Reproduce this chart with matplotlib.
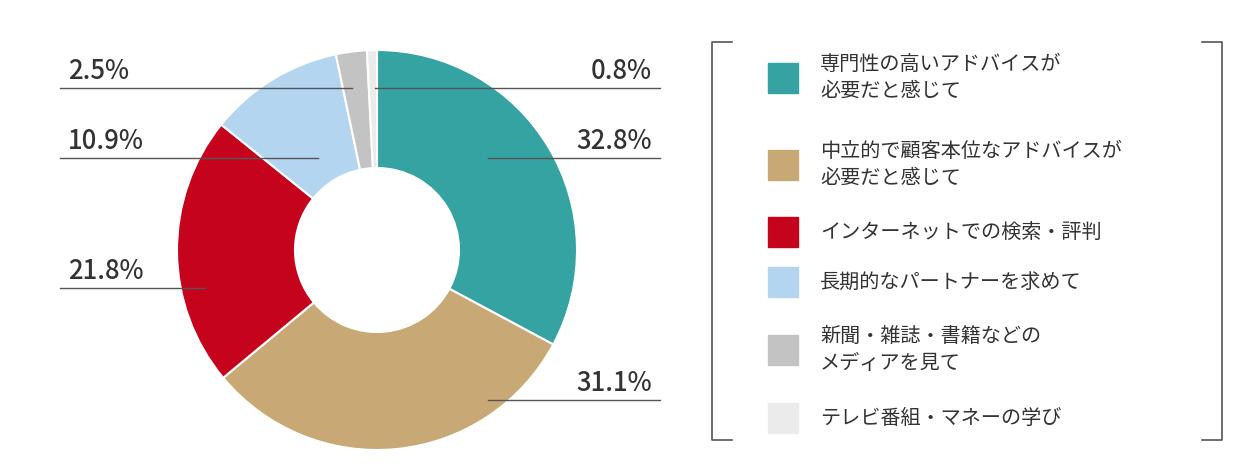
import matplotlib
matplotlib.use("Agg")
import matplotlib.pyplot as plt
from matplotlib.patches import Rectangle

plt.rcParams['font.family'] = ['Noto Sans CJK JP', 'DejaVu Sans']

labels = ["専門性の高いアドバイスが\n必要だと感じて", "中立的で顧客本位なアドバイスが\n必要だと感じて",
          "インターネットでの検索・評判", "長期的なパートナーを求めて",
          "新聞・雑誌・書籍などの\nメディアを見て", "テレビ番組・マネーの学び"]
values = [32.8, 31.1, 21.8, 10.9, 2.5, 0.8]
pct_labels = ["32.8%", "31.1%", "21.8%", "10.9%", "2.5%", "0.8%"]
colors = ["#35a3a2", "#c8a975", "#c5031d", "#b3d5f0", "#c3c3c3", "#ebebeb"]

W, H = 1260, 473
fig = plt.figure(figsize=(12.6, 4.73), dpi=100)
ax = fig.add_axes([0, 0, 1, 1])

cx, cy, R = 377, 223, 200
ax.pie(values, colors=colors, startangle=90, counterclock=False, center=(cx, cy), radius=R,
       wedgeprops=dict(width=R * 0.59, edgecolor='white', linewidth=1.5), frame=True)
ax.set_xlim(0, W); ax.set_ylim(0, H); ax.set_aspect('equal'); ax.axis('off')

leaders = [(0, 158, 488, 660, 'r'), (1, 400, 488, 660, 'r'), (2, 288, 60, 205, 'l'),
           (3, 158, 60, 318, 'l'), (4, 88, 60, 352, 'l'), (5, 88, 375, 660, 'r')]
for i, yp, x0, x1, side in leaders:
    y = H - yp
    ax.plot([x0, x1], [y, y], color='#555555', lw=1)
    kw = dict(va='bottom', fontsize=18.5, color='#333333', fontweight='medium')
    if side == 'l':
        ax.text(68, y + 3, pct_labels[i], ha='left', **kw)
    else:
        ax.text(652, y + 3, pct_labels[i], ha='right', **kw)

bx0, bx1, by0, by1 = 712, 1222, 42, 440
for xs in [(bx0 + 20, bx0, bx0, bx0 + 20), (bx1 - 20, bx1, bx1, bx1 - 20)]:
    ax.plot(xs, [H - by0, H - by0, H - by1, H - by1], color='#555555', lw=1.2)

ys = [78, 165, 232, 282, 350, 418]
for lab, c, yp in zip(labels, colors, ys):
    y = H - yp
    ax.add_patch(Rectangle((768, y - 15), 30, 30, color=c))
    ax.text(820, y, lab, ha='left', va='center', fontsize=14.5, color='#333333', linespacing=1.35)

fig.savefig("out.png", dpi=100)
